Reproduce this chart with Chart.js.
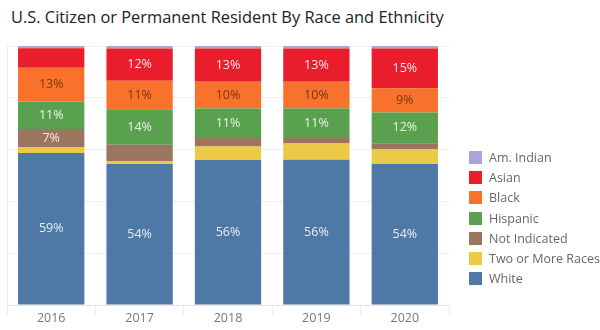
<!DOCTYPE html>
<html>
<head>
<meta charset="utf-8">
<script src="https://cdn.jsdelivr.net/npm/chart.js@4"></script>
<style>
  body { margin: 0; background: #fff; font-family: "Open Sans", sans-serif; }
  .wrap { position: relative; width: 600px; height: 330px; }
  .title { position: absolute; left: 11px; top: 5px; font-size: 16.4px; color: #222; white-space: nowrap; }
  #chart { position: absolute; left: 0; top: 0; }
  .legend { position: absolute; left: 469px; top: 147px; font-size: 12.5px; color: #666; }
  .legend div { height: 20.3px; display: flex; align-items: center; }
  .legend span.sw { width: 13px; height: 13px; margin-right: 7px; display: inline-block; }
</style>
</head>
<body>
<div class="wrap">
  <div class="title">U.S. Citizen or Permanent Resident By Race and Ethnicity</div>
  <canvas id="chart" width="600" height="330"></canvas>
  <div class="legend" id="legend"></div>
</div>
<script>
const years = ['2016', '2017', '2018', '2019', '2020'];

// percent of total, per year
const white        = [58.7, 54.4, 56.0, 56.1, 54.4];
const twoOrMore    = [2.3, 1.2, 5.2, 6.3, 5.8];
const notIndicated = [7.0, 6.3, 3.3, 2.1, 2.3];
const hispanic     = [10.6, 13.7, 11.4, 11.4, 11.8];
const black        = [13.0, 11.0, 10.3, 10.3, 9.4];
const asian        = [7.5, 12.4, 12.8, 12.8, 15.3];
const amIndian     = [0.9, 1.0, 1.0, 1.0, 1.0];

const yTicks = [0, 20, 40, 60, 80, 100];

// segments that carry no label in the original
const unlabelled = [['Asian', '2016']];

// bottom of stack first
const series = [
  { label: 'White', data: white, color: '#4e79a7', text: '#e8eef6' },
  { label: 'Two or More Races', data: twoOrMore, color: '#edc948', text: '#5a4a10' },
  { label: 'Not Indicated', data: notIndicated, color: '#9c755f', text: '#f3ece6' },
  { label: 'Hispanic', data: hispanic, color: '#59a14f', text: '#e9f3e6' },
  { label: 'Black', data: black, color: '#f9722c', text: '#7a3410' },
  { label: 'Asian', data: asian, color: '#e91d2b', text: '#fde6e8' },
  { label: 'Am. Indian', data: amIndian, color: '#a6a6d8', text: '#333' }
];

// legend, top to bottom
const legend = document.getElementById('legend');
series.slice().reverse().forEach(s => {
  const row = document.createElement('div');
  row.innerHTML = `<span class="sw" style="background:${s.color}"></span>${s.label}`;
  legend.appendChild(row);
});

const segmentLabels = {
  id: 'segmentLabels',
  afterDatasetsDraw(chart) {
    const ctx = chart.ctx;
    ctx.save();
    ctx.font = '12.5px "Open Sans", sans-serif';
    ctx.textAlign = 'center';
    ctx.textBaseline = 'middle';
    chart.data.datasets.forEach((ds, i) => {
      const meta = chart.getDatasetMeta(i);
      meta.data.forEach((bar, j) => {
        const v = ds.data[j];
        if (v < 6.5) return;
        if (unlabelled.some(u => u[0] === ds.label && u[1] === years[j])) return;
        ctx.fillStyle = series[i].text;
        ctx.fillText(Math.round(v) + '%', bar.x, (bar.y + bar.base) / 2);
      });
    });
    ctx.restore();
  }
};

new Chart(document.getElementById('chart'), {
  type: 'bar',
  data: {
    labels: years,
    datasets: series.map(s => ({
      label: s.label,
      data: s.data,
      backgroundColor: s.color,
      borderWidth: 0,
      categoryPercentage: 0.75,
      barPercentage: 1
    }))
  },
  options: {
    responsive: false,
    animation: false,
    layout: { padding: { left: 7, top: 46, right: 151, bottom: 8 } },
    plugins: { legend: { display: false }, tooltip: { enabled: false }, title: { display: false } },
    scales: {
      x: {
        stacked: true,
        grid: { offset: true, drawOnChartArea: false, drawTicks: true, tickLength: 10, color: '#ececec' },
        border: { display: true, color: '#e6e6e6' },
        ticks: { color: '#777', font: { family: 'Open Sans', size: 12.5 }, padding: -4 }
      },
      y: {
        stacked: true,
        min: 0,
        max: 100,
        afterBuildTicks: axis => { axis.ticks = yTicks.map(v => ({ value: v })); },
        grid: { color: '#efefef', drawTicks: false },
        border: { display: true, color: '#ececec' },
        ticks: { display: false }
      }
    }
  },
  plugins: [segmentLabels]
});
</script>
</body>
</html>
